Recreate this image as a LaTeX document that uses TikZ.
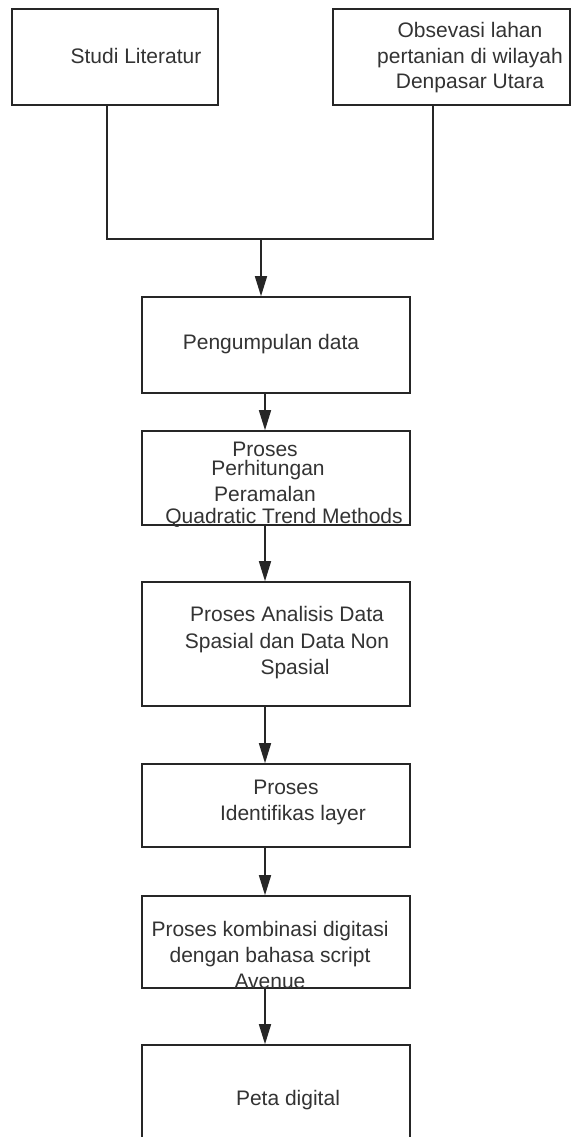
\documentclass[tikz,border=0pt]{standalone}
\usepackage{fontspec}
\setmainfont{Liberation Sans}
\usetikzlibrary{arrows.meta}
\begin{document}
\begin{tikzpicture}[x=1pt,y=-1pt,
  box/.style={draw=black!85,line width=1.6pt,rectangle,inner sep=0pt},
  txt/.style={inner sep=0pt,text=black!80,align=center,font=\fontsize{21}{25.5}\selectfont},
  ln/.style={draw=black!85,line width=1.6pt},
  arr/.style={ln,-{Triangle[width=12pt,length=20pt]}}]
\clip (0,0) rectangle (572,1137);
\fill[white] (0,0) rectangle (572,1137);
% boxes
\node[box,minimum width=206pt,minimum height=96pt] (b1) at (115,57) {};
\node[box,minimum width=237pt,minimum height=96pt] (b2) at (451.5,57) {};
\node[box,minimum width=268pt,minimum height=96pt] (b3) at (276,345) {};
\node[box,minimum width=268pt,minimum height=94pt] (b4) at (276,478) {};
\node[box,minimum width=268pt,minimum height=124pt] (b5) at (276,644) {};
\node[box,minimum width=268pt,minimum height=83pt] (b6) at (276,805.5) {};
\node[box,minimum width=268pt,minimum height=92pt] (b7) at (276,942) {};
\node[box,minimum width=268pt,minimum height=130pt] (b8) at (276,1110) {};
% texts
\node[txt] (t1) at (136,56) {Studi Literatur};
\node[txt] (t2) at (470,58) {Obsevasi lahan\\pertanian di wilayah\\Denpasar Utara};
\node[txt] (t3) at (271,344) {Pengumpulan data};
\node[txt] (t4a) at (265,449) {Proses};
\node[txt] (t4b) at (268,470) {Perhitungan};
\node[txt] (t4c) at (265,494) {Peramalan};
\node[txt] (t4d) at (284,518) {Quadratic Trend Methods};
\node[txt,font=\fontsize{21}{26.5}\selectfont] (t5) at (287,643) {Proses Analisis Data\\Spasial dan Data Non\\\hspace*{16pt}Spasial};
\node[txt,font=\fontsize{21}{26}\selectfont] (t6) at (293,802) {\hspace*{-14pt}Proses\\Identifikas layer};
\node[txt,font=\fontsize{21}{26}\selectfont] (t7) at (270,955) {Proses kombinasi digitasi\\dengan bahasa script\\Avenue};
\node[txt] (t8) at (288,1100) {Peta digital};
% connectors
\coordinate (j1) at (107,239);
\coordinate (j2) at (433,239);
\coordinate (jm) at (261,239);
\coordinate (ax) at (265,0);
\draw[ln] (b1.south -| j1) -- (j1) -- (j2) -- (b2.south -| j2);
\draw[arr] (jm) -- (b3.north -| jm);
\draw[arr] (b3.south -| ax) -- (b4.north -| ax);
\draw[arr] (b4.south -| ax) -- (b5.north -| ax);
\draw[arr] (b5.south -| ax) -- (b6.north -| ax);
\draw[arr] (b6.south -| ax) -- (b7.north -| ax);
\draw[arr] (b7.south -| ax) -- (b8.north -| ax);
\end{tikzpicture}
\end{document}
